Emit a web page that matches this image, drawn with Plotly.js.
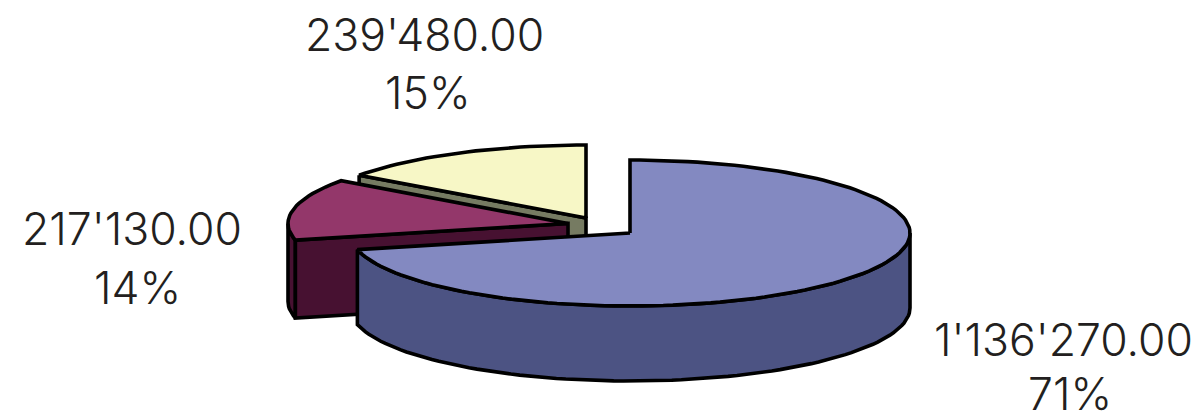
<!DOCTYPE html>
<html><head><meta charset="utf-8">
<script src="https://cdn.plot.ly/plotly-3.0.1.min.js"></script>
<style>html,body{margin:0;padding:0;background:#fff}#chart{width:1202px;height:412px}</style>
</head><body><div id="chart"></div>
<script>
// Data, in clockwise drawing order starting at 12 o'clock
const categories = ["A", "B", "C"];
const amounts = [1136270, 217130, 239480];

// Styles
const topColors = ["#8389C1", "#93376A", "#F7F7C6"];
const sideColors = ["#4C5383", "#471131", "#767B62"];
const textColor = "#231F20";

// Projection of the 3D pie
const RX = 280, RY = 73;
const depths = [75, 78, 75];
const centers = [[630, 233], [568, 223.5], [586, 218]];
const labelAnchors = [[[1063, 340], [1070, 394]], [[132, 229], [137, 288]], [[424, 35], [428, 93]]];

const total = amounts.reduce((a, b) => a + b, 0);
let run = 0;
const angles = amounts.map(v => { const s = run; run += v / total * 360; return [s, run]; });

function pt(c, deg, dz) {
  const r = deg * Math.PI / 180;
  return [c[0] + RX * Math.sin(r), c[1] - RY * Math.cos(r) + (dz || 0)];
}
function arc(c, a, b, dz) {
  const n = Math.max(2, Math.ceil(Math.abs(b - a) / 2)), out = [];
  for (let i = 0; i <= n; i++) out.push(pt(c, a + (b - a) * i / n, dz));
  return out;
}
function poly(points, fill) {
  const closed = points.concat([points[0]]);
  return {
    type: "scatter", mode: "lines", fill: "toself", fillcolor: fill,
    x: closed.map(p => p[0]), y: closed.map(p => p[1]),
    line: { color: "#000", width: 3.6 }, hoverinfo: "skip", showlegend: false
  };
}
const top_ = i => poly([centers[i]].concat(arc(centers[i], angles[i][0], angles[i][1], 0)), topColors[i]);
const wall = (i, a, b) => poly(arc(centers[i], a, b, 0).concat(arc(centers[i], b, a, depths[i])), sideColors[i]);
const cut = (i, deg) => {
  const c = centers[i];
  return poly([pt(c, deg, 0), c, [c[0], c[1] + depths[i]], pt(c, deg, depths[i])], sideColors[i]);
};

const traces = [
  cut(2, angles[2][0]), top_(2),
  wall(1, angles[1][0], 270), cut(1, angles[1][0]), top_(1),
  wall(0, 90, angles[0][1]), top_(0)
];

const fmt = v => String(v).replace(/\B(?=(\d{3})+$)/g, "'") + ".00";
const annotations = [];
amounts.forEach((v, i) => {
  [fmt(v), Math.round(v / total * 100) + "%"].forEach((t, j) => annotations.push({
    x: labelAnchors[i][j][0], y: labelAnchors[i][j][1], xref: "x", yref: "y",
    text: t, showarrow: false, xanchor: "center", yanchor: "middle",
    font: { family: "Inter, 'DejaVu Sans', sans-serif", size: 44.5, weight: 300, color: textColor }
  }));
});

Plotly.newPlot("chart", traces, {
  width: 1202, height: 412,
  margin: { l: 0, r: 0, t: 0, b: 0 },
  paper_bgcolor: "#fff", plot_bgcolor: "#fff", showlegend: false,
  xaxis: { range: [0, 1202], visible: false, fixedrange: true },
  yaxis: { range: [412, 0], visible: false, fixedrange: true },
  annotations
}, { displayModeBar: false, staticPlot: true });
</script></body></html>
